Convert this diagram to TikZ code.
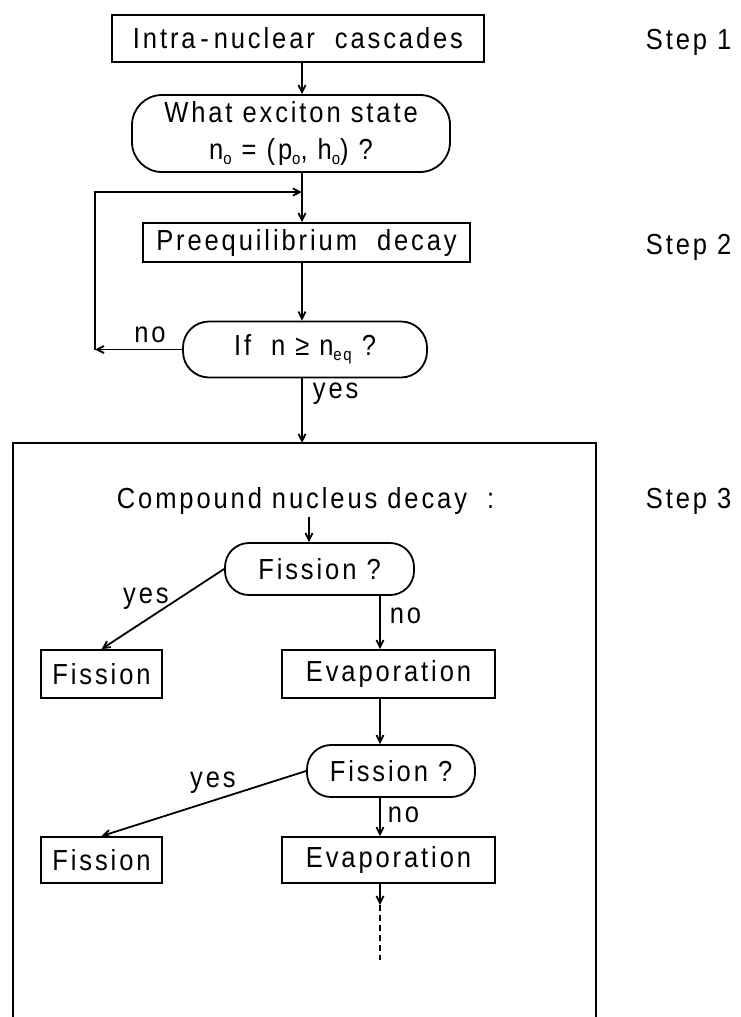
\documentclass[tikz,border=0pt]{standalone}
\usepackage{fontspec}
\setmainfont{Liberation Sans}[LetterSpace=10,FakeStretch=0.88]
\usetikzlibrary{arrows.meta,calc}
\newcommand\fsz{\fontsize{29}{37}\selectfont}
\newcommand\subsc[1]{\raisebox{-0.35ex}{\fontsize{17}{17}\selectfont #1}}
\begin{document}
\begin{tikzpicture}[x=1pt,y=-1pt, line width=1.8pt,
  >={Straight Barb[length=7pt,width=7pt]},
  box/.style={draw, rectangle, inner sep=0pt, font=\fsz},
  rbox/.style={draw, rectangle, rounded corners=24pt, inner sep=0pt, align=center, font=\fsz},
  lbl/.style={inner sep=0pt, font=\fsz},
]
\useasboundingbox (0,0) rectangle (740,1017);
% step 1 & 2
\node[box, minimum width=372pt, minimum height=47pt] (b1) at (298,38.5) {Intra\,-\,nuclear\ \ cascades};
\node[rbox, minimum width=318pt, minimum height=77pt, rounded corners=30pt] (b2) at (291,133.5) {What exciton state\\n\subsc{o} = (p\subsc{o}, h\subsc{o}) ?};
\node[box, minimum width=327pt, minimum height=39pt] (pre) at (306.5,242.5) {Preequilibrium\ \ decay};
\node[rbox, minimum width=244pt, minimum height=56pt, rounded corners=26pt] (dec) at (305,349.5) {If\ \ n ≥ n\subsc{eq} ?};
\coordinate (sp) at (302,0);
\coordinate (lx) at (95,0);
\coordinate (jn) at (302,192);
\coordinate (bigtop) at (302,443);
\draw[->] (b1.south -| sp) -- (b2.north -| sp);
\draw (b2.south -| sp) -- (jn);
\draw[->] (jn) -- (pre.north -| sp);
\draw[->] (pre.south -| sp) -- (dec.north -| sp);
\draw[->] (dec.west) -- (dec.west -| lx);
\draw[->] (dec.west -| lx) |- (jn);
\draw[->] (dec.south -| sp) -- (bigtop);
\node[lbl, anchor=base] (no0) at (150,342) {no};
\node[lbl, anchor=base west] (yes0) at (312,398) {yes};
% steps
\node[lbl, anchor=base west] (s1) at (645,49) {Step 1};
\node[lbl, anchor=base west] (s2) at (645,254) {Step 2};
\node[lbl, anchor=base west] (s3) at (645,508) {Step 3};
% step 3 frame
\draw (13,1030) -- (13,443) -- (596,443) -- (596,1030);
\node[lbl, anchor=base west] (cnd) at (116,508) {Compound\ nucleus\ decay\hspace{20pt}:};
\coordinate (c1) at (309,517);
\node[rbox, minimum width=189pt, minimum height=52pt, rounded corners=24pt] (fq1) at (319.5,569) {Fission ?};
\draw[->] (c1) -- (c1 |- fq1.north);
\node[box, minimum width=121pt, minimum height=48pt] (fis1) at (101.5,674) {Fission};
\node[box, minimum width=213pt, minimum height=48pt] (eva1) at (388.5,674) {Evaporation};
\coordinate (sp2) at (380,0);
\draw[->] (fq1.south -| sp2) -- (eva1.north -| sp2);
\draw[->] (fq1.west) -- (fis1.north);
\node[lbl, anchor=base] (yes1) at (146,603) {yes};
\node[lbl, anchor=base west] (no1) at (389,623) {no};
\node[rbox, minimum width=168pt, minimum height=52pt] (fq2) at (391,771) {Fission ?};
\draw[->] (eva1.south -| sp2) -- (fq2.north -| sp2);
\node[box, minimum width=121pt, minimum height=46pt] (fis2) at (101.5,860) {Fission};
\node[box, minimum width=213pt, minimum height=46pt] (eva2) at (388.5,860) {Evaporation};
\draw[->] (fq2.south -| sp2) -- (eva2.north -| sp2);
\draw[->] (fq2.west) -- (fis2.north);
\node[lbl, anchor=base] (yes2) at (213,787) {yes};
\node[lbl, anchor=base west] (no2) at (387,822) {no};
\coordinate (d1) at (380,905);
\coordinate (d2) at (380,960);
\draw[->] (eva2.south -| sp2) -- (d1);
\draw[dashed, dash pattern=on 6pt off 4pt] (d1) -- (d2);
\end{tikzpicture}
\end{document}
